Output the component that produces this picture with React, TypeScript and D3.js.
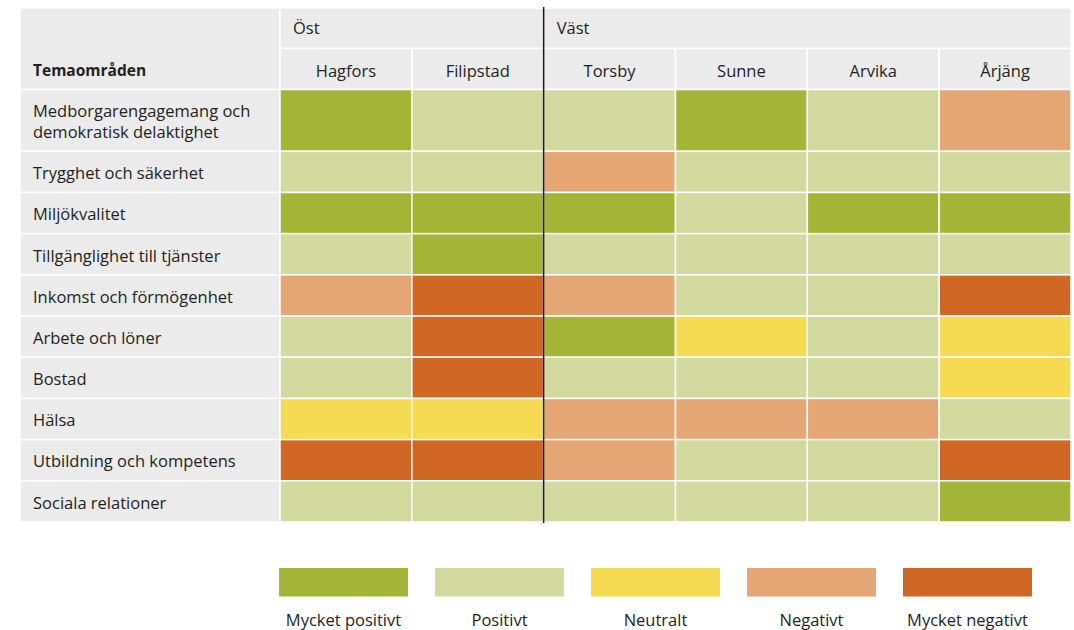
import React from "react";
import * as d3 from "d3";

const themes = [
  "Medborgarengagemang och|demokratisk delaktighet",
  "Trygghet och säkerhet",
  "Miljökvalitet",
  "Tillgänglighet till tjänster",
  "Inkomst och förmögenhet",
  "Arbete och löner",
  "Bostad",
  "Hälsa",
  "Utbildning och kompetens",
  "Sociala relationer",
];
const rowWeights = [1.5, 1, 1, 1, 1, 1, 1, 1, 1, 1];
const municipalities = ["Hagfors", "Filipstad", "Torsby", "Sunne", "Arvika", "Årjäng"];
const regions = [
  { name: "Öst", members: ["Hagfors", "Filipstad"] },
  { name: "Väst", members: ["Torsby", "Sunne", "Arvika", "Årjäng"] },
];
const levels = ["Mycket positivt", "Positivt", "Neutralt", "Negativt", "Mycket negativt"];
const levelColors = ["#a2b536", "#d2d99f", "#f6da52", "#e3a674", "#d06725"];
// value per theme (rows) x municipality (cols): index into levels
const ratings: number[][] = [
  [0, 1, 1, 0, 1, 3],
  [1, 1, 3, 1, 1, 1],
  [0, 0, 0, 1, 0, 0],
  [1, 0, 1, 1, 1, 1],
  [3, 4, 3, 1, 1, 4],
  [1, 4, 0, 2, 1, 2],
  [1, 4, 1, 1, 1, 2],
  [2, 2, 3, 3, 3, 1],
  [4, 4, 3, 1, 1, 4],
  [1, 1, 1, 1, 1, 0],
];

const W = 1074;
const H = 630;
const FONT = "'Open Sans', 'Noto Sans', sans-serif";
const GRAY = "#ebebeb";
const TEXT = "#231f20";
const FS = 16.5;

export default function App() {
  const left = 20;
  const labelRight = 280;
  const right = 1071;
  const top = 8;
  const head1 = 48.5;
  const head2 = 89.5;
  const bottom = 522;

  const x = d3.scaleBand<string>().domain(municipalities).range([labelRight, right]);
  const cum = d3.cumsum(rowWeights);
  const total = cum[cum.length - 1];
  const yUnits = d3.scaleLinear().domain([0, total]).range([head2, bottom]);
  const rowY = (i: number) => yUnits(i === 0 ? 0 : cum[i - 1]);
  const rowH = (i: number) => yUnits(cum[i]) - rowY(i);

  const color = d3.scaleOrdinal<number, string>().domain(d3.range(levels.length)).range(levelColors);
  const legendX = d3.scaleBand<string>().domain(levels).range([279, 279 + 5 * 156]);
  const legendBoxW = 129;

  const sw = 1.5;
  const divider = x("Torsby")!;

  return (
    <svg width={W} height={H} style={{ position: "absolute", left: 0, top: 0 }} fontFamily={FONT}>
      <rect width={W} height={H} fill="#fff" />
      {/* header label cell */}
      <rect x={left} y={top} width={labelRight - left} height={head2 - top} fill={GRAY} stroke="#fff" strokeWidth={sw} />
      <text x={33} y={71} dy="0.35em" fontSize={15.5} fontWeight={700} fill={TEXT}>Temaområden</text>
      {/* region header */}
      {regions.map((r) => {
        const x0 = x(r.members[0])!;
        const x1 = x(r.members[r.members.length - 1])! + x.bandwidth();
        return (
          <g key={r.name}>
            <rect x={x0} y={top} width={x1 - x0} height={head1 - top} fill={GRAY} stroke="#fff" strokeWidth={sw} />
            <text x={x0 + 13} y={28} dy="0.35em" fontSize={FS} fill={TEXT}>{r.name}</text>
          </g>
        );
      })}
      {/* municipality header */}
      {municipalities.map((m) => (
        <g key={m}>
          <rect x={x(m)} y={head1} width={x.bandwidth()} height={head2 - head1} fill={GRAY} stroke="#fff" strokeWidth={sw} />
          <text x={x(m)! + x.bandwidth() / 2} y={71} dy="0.35em" textAnchor="middle" fontSize={FS} fill={TEXT}>{m}</text>
        </g>
      ))}
      {/* rows */}
      {themes.map((t, i) => {
        const lines = t.split("|");
        const cy = rowY(i) + rowH(i) / 2 + 1.5;
        return (
          <g key={t}>
            <rect x={left} y={rowY(i)} width={labelRight - left} height={rowH(i)} fill={GRAY} stroke="#fff" strokeWidth={sw} />
            {lines.map((ln, k) => (
              <text key={k} x={33} y={cy + (k - (lines.length - 1) / 2) * 21} dy="0.35em" fontSize={FS} fill={TEXT}>{ln}</text>
            ))}
            {municipalities.map((m, j) => (
              <rect key={m} x={x(m)} y={rowY(i)} width={x.bandwidth()} height={rowH(i)} fill={color(ratings[i][j])} stroke="#fff" strokeWidth={sw} />
            ))}
          </g>
        );
      })}
      <line x1={divider} x2={divider} y1={7} y2={523} stroke="#1a1a1a" strokeWidth={1.5} />
      {/* legend */}
      {levels.map((l, k) => (
        <g key={l}>
          <rect x={legendX(l)} y={568} width={legendBoxW} height={28.5} fill={color(k)} />
          <text x={legendX(l)! + legendBoxW / 2} y={620} dy="0.35em" textAnchor="middle" fontSize={FS} fill={TEXT}>{l}</text>
        </g>
      ))}
    </svg>
  );
}
